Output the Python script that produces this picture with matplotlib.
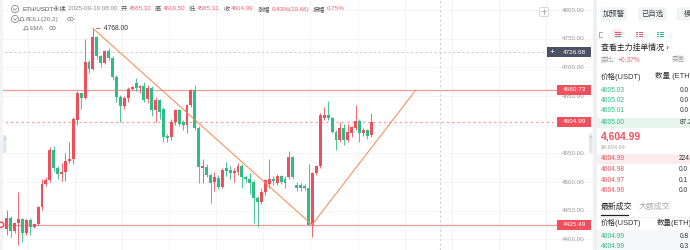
import matplotlib
matplotlib.use("Agg")
import matplotlib.pyplot as plt
from matplotlib.patches import Rectangle, FancyBboxPatch, Circle, Ellipse
from matplotlib.transforms import blended_transform_factory
import numpy as np

plt.rcParams['font.family'] = ['Liberation Sans', 'Noto Sans CJK SC', 'DejaVu Sans']

# ETH/USDT 1h candles
opens = [4418, 4438, 4415, 4428, 4435, 4411, 4434, 4422, 4427, 4456,
         4496, 4503, 4556, 4525, 4514, 4518, 4537, 4540, 4608, 4655,
         4647, 4710, 4697, 4753, 4719, 4708, 4729, 4716, 4684, 4649,
         4632, 4646, 4662, 4672, 4664, 4668, 4645, 4664, 4626, 4643,
         4628, 4580, 4578, 4605, 4625, 4605, 4600, 4634, 4660, 4594,
         4524, 4527, 4512, 4500, 4507, 4492, 4525, 4521, 4515, 4518,
         4528, 4509, 4506, 4500, 4472, 4466, 4483, 4496, 4506, 4499,
         4510, 4506, 4509, 4543, 4495, 4494, 4493, 4489, 4425.5, 4515,
         4528, 4611, 4617, 4611, 4588, 4573, 4594, 4574, 4585, 4595,
         4607, 4585, 4590, 4582]
highs = [4451, 4440, 4431, 4483, 4437, 4436, 4437, 4429, 4458, 4506,
         4508, 4561, 4562, 4528, 4533, 4550, 4570, 4614, 4658, 4657,
         4749, 4713, 4768, 4755, 4722, 4731, 4734, 4719, 4686, 4652,
         4650, 4665, 4668, 4682, 4670, 4675, 4670, 4668, 4648, 4645,
         4630, 4584, 4610, 4628, 4627, 4608, 4636, 4663, 4669, 4598,
         4540, 4532, 4515, 4518, 4512, 4525, 4535, 4528, 4524, 4533,
         4531, 4512, 4515, 4504, 4475, 4490, 4506, 4540, 4510, 4514,
         4513, 4510, 4555, 4546, 4500, 4498, 4497, 4532, 4518, 4530,
         4620, 4630, 4642, 4614, 4590, 4605, 4602, 4601, 4598, 4634,
         4610, 4595, 4593, 4620]
lows = [4408, 4405, 4412, 4390, 4396, 4408, 4407, 4420, 4425, 4451,
        4493, 4500, 4520, 4505, 4501, 4502, 4533, 4532, 4600, 4628,
        4645, 4690, 4695, 4715, 4700, 4706, 4712, 4678, 4640, 4605,
        4628, 4640, 4660, 4658, 4655, 4640, 4638, 4615, 4605, 4610,
        4570, 4570, 4574, 4600, 4598, 4590, 4585, 4630, 4590, 4498,
        4498, 4508, 4463, 4485, 4488, 4490, 4510, 4505, 4500, 4512,
        4490, 4500, 4480, 4428, 4422, 4462, 4478, 4490, 4495, 4495,
        4496, 4490, 4505, 4505, 4485, 4484, 4486, 4425, 4405, 4512,
        4525, 4608, 4609, 4585, 4556, 4570, 4565, 4570, 4578, 4590,
        4570, 4580, 4575, 4578]
closes = [4438, 4415, 4428, 4435, 4411, 4434, 4422, 4427, 4456, 4496,
          4504, 4556, 4525, 4514, 4518, 4537, 4540, 4610, 4655, 4647,
          4710, 4697, 4753, 4719, 4707, 4729, 4716, 4684, 4649, 4632,
          4646, 4662, 4665, 4664, 4668, 4643, 4664, 4626, 4643, 4622,
          4579, 4576, 4605, 4625, 4601, 4600, 4634, 4660, 4594, 4526,
          4528, 4512, 4498, 4509, 4492, 4521, 4520, 4515, 4520, 4528,
          4509, 4506, 4498, 4472, 4466, 4483, 4504, 4506, 4502, 4510,
          4500, 4498, 4543, 4509, 4490, 4489, 4489, 4425.5, 4515, 4528,
          4617, 4617, 4611, 4588, 4573, 4594, 4574, 4588, 4596, 4607,
          4585, 4590, 4580, 4604.99]

axis_ticks = [4400, 4450, 4500, 4550, 4600, 4650, 4700, 4750, 4800]
resistance = 4660.73
support = 4425.49
last_price = 4604.99
cross_price = 4726.68
cross_idx = 110.5
peak_idx, peak_price = 22, 4768.00
trend_x = [22, 77.9, 104.4]
trend_y = [4768.00, 4425.49, 4660.73]

header_items = [("ETH/USDT永续", "#555555"), ("2025-09-19 08:00", "#8a8a8a"),
                ("开", "#555555"), ("4585.32", "#F0616D"),
                ("高", "#555555"), ("4619.50", "#F0616D"),
                ("低", "#555555"), ("4585.31", "#F0616D"),
                ("收", "#555555"), ("4604.99", "#F0616D"),
                ("涨幅", "#555555"), ("0.43%(19.68)", "#F0616D"),
                ("振幅", "#555555"), ("0.75%", "#F0616D")]
header_anchor = {0: 22.5, 1: 68, 2: 120.5}

ask_prices = ["4605.03", "4605.02", "4605.01", "4605.00"]
ask_qty = ["0.0", "0.0", "0.0", "87.2"]
bid_prices = ["4604.99", "4604.98", "4604.97", "4604.96"]
bid_qty = ["224.3", "0.0", "0.1", "0.0"]
trade_prices = ["4604.99", "4604.99"]
trade_qty = ["0.8", "0.3"]

RED = "#EF4F5C"
GREEN = "#2EBD85"

fig = plt.figure(figsize=(6.9, 2.5), dpi=100)
fig.patch.set_facecolor("white")

# ---- chart area ----
ax = fig.add_axes([0, 0, 593 / 690, 1])
ax.set_xlim(-1.709, 149.57)
ax.set_ylim(4381.53, 4817.44)
for s in ax.spines.values():
    s.set_visible(False)
ax.set_xticks(np.arange(5.5, 150, 12))
ax.set_yticks(axis_ticks)
ax.tick_params(length=0, labelleft=False, labelbottom=False)
ax.grid(color="#f3f3f3", lw=0.6)
ax.set_axisbelow(True)

idx = np.arange(len(opens))
o = np.array(opens, float)
c = np.array(closes, float)
h = np.array(highs, float)
l = np.array(lows, float)
up = c >= o
cols = np.where(up, RED, GREEN)
ax.vlines(idx, l, h, colors=cols, lw=0.6, zorder=3)
bottom = np.minimum(o, c)
height = np.maximum(np.abs(c - o), 1.6)
ax.bar(idx, height, bottom=bottom, width=0.74, color=cols, lw=0, zorder=4)

bl = blended_transform_factory(ax.transAxes, ax.transData)
line_end = 557 / 593
ax.axhline(resistance, xmax=line_end, color="#F59A9A", lw=0.9, zorder=2)
ax.axhline(support, xmax=line_end, color="#F59A9A", lw=0.9, zorder=2)
ax.axhline(last_price, xmax=line_end, color="#F5A3A3", lw=0.9, ls=(0, (2, 2.2)), zorder=2)
ax.axhline(cross_price, xmax=547 / 593, color="#CFCFCF", lw=0.8, ls=(0, (2, 2.2)), zorder=2)
ax.axvline(cross_idx, color="#CFCFCF", lw=0.8, ls=(0, (2, 2.2)), zorder=2)
ax.plot(trend_x, trend_y, color="#F58E5A", lw=0.75, zorder=5)
ax.text(peak_idx + 0.6, peak_price, "← 4768.00", fontsize=4.9, color="#333333",
        va="center", ha="left", zorder=6)

tag_prices = [resistance, last_price, support, cross_price]

# price scale (labels under a price tag stay hidden, as on the platform)
for t in axis_ticks:
    if min(abs(t - p) for p in tag_prices) < 9:
        continue
    ax.text(585 / 593, t, f"{t:.2f}", transform=bl, fontsize=4.5, color="#9a9a9a",
            ha="right", va="center", zorder=6)

box_x0, box_w = 557 / 593, 34 / 593
for price, col in zip(tag_prices, ["#F0505E", "#F0505E", "#F0505E", "#4B5261"]):
    ax.add_patch(Rectangle((box_x0, price - 8.5), box_w, 17, transform=bl,
                           facecolor=col, edgecolor="none", zorder=7, clip_on=False))
    ax.text(box_x0 + box_w / 2, price, f"{price:.2f}", transform=bl, fontsize=4.6,
            color="white", ha="center", va="center", zorder=8)
ax.add_patch(Rectangle((547 / 593, cross_price - 8.5), 9.5 / 593, 17, transform=bl,
                       facecolor="#4B5261", edgecolor="none", zorder=7))
ax.text(551.7 / 593, cross_price, "+", transform=bl, fontsize=6, color="white",
        ha="center", va="center", zorder=8)

# ---- overlay in pixel coordinates ----
ov = fig.add_axes([0, 0, 1, 1])
ov.set_xlim(0, 690)
ov.set_ylim(250, 0)
ov.axis("off")
ov.patch.set_alpha(0)
renderer = fig.canvas.get_renderer()

# left edge and handles
ov.add_patch(Rectangle((0, 0), 2.5, 250, facecolor="#F2F3F5", edgecolor="none"))
ov.add_patch(FancyBboxPatch((3, 135), 3.5, 18, boxstyle="round,pad=0,rounding_size=1.5",
                            facecolor="#E4E6EA", edgecolor="none"))
ov.text(4.7, 139, "›", fontsize=4, color="#888888", ha="center", va="center")
ov.add_patch(FancyBboxPatch((589, 133), 3.5, 20, boxstyle="round,pad=0,rounding_size=1.5",
                            facecolor="#E4E6EA", edgecolor="none"))
ov.text(590.7, 137, "›", fontsize=4, color="#888888", ha="center", va="center")
ov.add_patch(Circle((1, 224.8), 2.6, facecolor="white", edgecolor=RED, lw=1.1))

# crosshair button top right
ov.add_patch(Rectangle((539, 7), 9, 8.5, facecolor="white", edgecolor="#D5D5D5", lw=0.6))
ov.plot([543.5, 543.5], [8.7, 13.8], color="#999999", lw=0.5)
ov.plot([540.8, 546.2], [11.25, 11.25], color="#999999", lw=0.5)

# header
for cy in (9, 19):
    ov.add_patch(Circle((15, cy), 3.6, facecolor="white", edgecolor="#8c8c8c", lw=0.6))
    ov.plot([13.4, 15, 16.6], [8.4 + cy - 9, 10.2 + cy - 9, 8.4 + cy - 9], color="#8c8c8c", lw=0.6)
x = 0
for k, (s, col) in enumerate(header_items):
    if k in header_anchor:
        x = header_anchor[k]
    t = ov.text(x, 9, s, fontsize=4.5, color=col, va="center", ha="left")
    gap = 1.8 if (k >= 2 and k % 2 == 0) else 3.5
    x = t.get_window_extent(renderer).x1 + gap


def bell(x, y):
    ov.plot([x - 2.2, x - 1.5, x - 1.2, x, x + 1.2, x + 1.5, x + 2.2, x - 2.2],
            [y + 1.8, y + 1.0, y - 1.0, y - 2.0, y - 1.0, y + 1.0, y + 1.8, y + 1.8],
            color="#8c8c8c", lw=0.55)


def eye(x, y):
    ov.add_patch(Ellipse((x, y), 6, 3.6, facecolor="none", edgecolor="#8c8c8c", lw=0.55))
    ov.add_patch(Circle((x, y), 0.8, facecolor="#8c8c8c", edgecolor="none"))


bell(22, 19)
ov.text(25.5, 19, "BOLL(20,2)", fontsize=4.6, color="#777777", va="center")
eye(70.5, 19)
bell(26, 28)
ov.text(30, 28, "EMA", fontsize=4.6, color="#777777", va="center")
eye(52.5, 28)

# ---- right panel ----
ov.add_patch(Rectangle((592.5, 0), 4, 250, facecolor="#EEF0F3", edgecolor="none"))
ov.add_patch(Rectangle((596.5, 0), 94, 250, facecolor="white", edgecolor="none"))

for bx, bw, label in [(600.5, 26.5, "加预警"), (638, 29, "已自选"), (676.5, 30, "模拟")]:
    ov.add_patch(FancyBboxPatch((bx, 7.5), bw, 13, boxstyle="round,pad=0,rounding_size=2",
                                facecolor="#F2F3F5", edgecolor="none"))
    ov.text(bx + bw / 2, 14, label, fontsize=5.3, color="#444444", ha="center", va="center")

# depth mode icons
ov.plot([602, 599, 599, 602], [31.5, 31.5, 36.5, 36.5], color="#999999", lw=0.6)
ov.add_patch(FancyBboxPatch((612.5, 29), 9, 9, boxstyle="round,pad=0,rounding_size=1.5",
                            facecolor="#FDE6E9", edgecolor="none"))
for yy, cc in [(31.5, RED), (33.5, RED), (35.5, GREEN)]:
    ov.plot([614.5, 619.5], [yy, yy], color=cc, lw=0.7)
for yy in (31.5, 33.5, 35.5):
    ov.plot([636, 637], [yy, yy], color=RED, lw=0.7)
    ov.plot([638.5, 642], [yy, yy], color=RED, lw=0.7)
    ov.plot([657, 658], [yy, yy], color=GREEN, lw=0.7)
    ov.plot([659.5, 663], [yy, yy], color=GREEN, lw=0.7)

ov.text(601, 47.5, "查看主力挂单情况 ›", fontsize=5.7, color="#222222", va="center")
t = ov.text(601, 60, "委比:", fontsize=4.8, color="#A0A0A0", va="center")
ov.text(t.get_window_extent(renderer).x1 + 1.2, 60, "+0.37%", fontsize=4.8,
        color="#F0616D", va="center")
ov.text(672, 60, "委差:", fontsize=4.8, color="#A0A0A0", va="center")

ov.text(601, 76.5, "价格(USDT)", fontsize=5.4, color="#333333", va="center")
ov.text(655, 76.5, "数量 (ETH)", fontsize=5.4, color="#333333", va="center")

ov.add_patch(Rectangle((596.5, 117.5), 94, 10, facecolor="#E6F6EF", edgecolor="none"))
for k, (p, q) in enumerate(zip(ask_prices, ask_qty)):
    y = [90.7, 100.7, 110.7, 122.5][k]
    ov.text(601, y, p, fontsize=4.8, color=GREEN, va="center")
    ov.text(680, y, q, fontsize=4.8, color="#333333", va="center")

ov.text(601, 136.5, "4,604.99", fontsize=7.4, color="#F0505E", fontweight="bold", va="center")
ov.text(601, 147, "$4,604.99", fontsize=4.0, color="#A8A8A8", va="center")

ov.add_patch(Rectangle((596.5, 154), 94, 10, facecolor="#FDECEE", edgecolor="none"))
for k, (p, q) in enumerate(zip(bid_prices, bid_qty)):
    y = [159, 169.7, 180.5, 190.7][k]
    ov.text(601, y, p, fontsize=4.8, color="#F0505E", va="center")
    ov.text(679, y, q, fontsize=4.8, color="#333333", va="center")

ov.text(601, 206.5, "最新成交", fontsize=5.7, color="#222222", va="center")
ov.text(638.5, 206.5, "大额成交", fontsize=5.7, color="#AAAAAA", va="center")
ov.plot([601, 628], [215, 215], color="#222222", lw=0.9)
ov.plot([596.5, 690], [217, 217], color="#EEEEEE", lw=0.6)
ov.text(601, 223, "价格(USDT)", fontsize=5.4, color="#333333", va="center")
ov.text(657, 223, "数量(ETH)", fontsize=5.4, color="#333333", va="center")

ov.add_patch(Rectangle((596.5, 230), 94, 20, facecolor="#F5F6F8", edgecolor="none"))
for k, (p, q) in enumerate(zip(trade_prices, trade_qty)):
    y = [236.7, 246.2][k]
    ov.text(601, y, p, fontsize=4.8, color=GREEN, va="center")
    ov.text(680, y, q, fontsize=4.8, color="#333333", va="center")

fig.savefig("out.png", dpi=100, facecolor="white")
